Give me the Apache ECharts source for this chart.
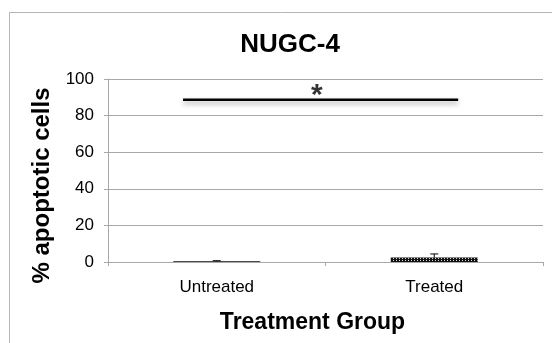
<!DOCTYPE html>
<html>
<head>
<meta charset="utf-8">
<script src="https://cdn.jsdelivr.net/npm/echarts@6/dist/echarts.min.js"></script>
<style>
  html, body { margin: 0; padding: 0; background: #fff; }
  #chart { width: 552px; height: 343px; }
</style>
</head>
<body>
<div id="chart"></div>
<script>
var categories = ['Untreated', 'Treated'];
var meanValues = [0.4, 2.4];
var errorValues = [0.3, 2.0];
var yTicks = [0, 20, 40, 60, 80, 100];
// significance bar: x positions in category units (0..2), height in %
var sigLineX = [0.345, 1.61];
var sigLineY = 88.7;
var sigStarX = 0.96;

var font = 'Liberation Sans, Arial, Helvetica, sans-serif';
var chart = echarts.init(document.getElementById('chart'));

var option = {
    animation: false,
    title: {
        text: 'NUGC-4',
        left: 285,
        top: 27,
        textAlign: 'center',
        textStyle: { fontFamily: font, fontSize: 26, fontWeight: 'bold', color: '#000' }
    },
    graphic: [{
        type: 'rect',
        shape: { x: 9.5, y: 12.5, width: 700, height: 500 },
        style: { fill: 'none', stroke: '#b5b5b5', lineWidth: 1 },
        silent: true
    }],
    grid: { left: 108, right: 9, top: 79, bottom: 81 },
    xAxis: [{
        type: 'category',
        data: categories,
        name: 'Treatment Group',
        nameLocation: 'middle',
        nameGap: 49,
        nameTextStyle: { fontFamily: font, fontSize: 23, fontWeight: 'bold', color: '#000', padding: [0, 26, 0, 0] },
        axisLine: { lineStyle: { color: '#a8a8a8', width: 1 } },
        axisTick: { show: true, length: 4, lineStyle: { color: '#a8a8a8' } },
        axisLabel: { fontFamily: font, fontSize: 17, color: '#000', margin: 17 },
        splitLine: { show: false }
    }, {
        type: 'value',
        min: 0,
        max: 2,
        show: false
    }],
    yAxis: {
        type: 'value',
        min: 0,
        max: 100,
        interval: 20,
        name: '% apoptotic cells',
        nameLocation: 'middle',
        nameGap: 50,
        nameTextStyle: { fontFamily: font, fontSize: 24, fontWeight: 'bold', color: '#000', padding: [0, 30, 0, 0] },
        axisLine: { show: true, lineStyle: { color: '#a8a8a8', width: 1 } },
        axisTick: { show: true, length: 4, lineStyle: { color: '#a8a8a8' } },
        axisLabel: {
            fontFamily: font, fontSize: 17, color: '#000', margin: 14,
            formatter: function (v) { return yTicks.indexOf(v) >= 0 ? String(v) : ''; }
        },
        splitLine: { show: true, lineStyle: { color: '#a8a8a8', width: 1 } }
    },
    series: [{
        type: 'bar',
        data: meanValues,
        barWidth: 87,
        itemStyle: {
            color: '#111',
            decal: {
                symbol: 'rect',
                symbolSize: 1,
                color: '#ddd',
                dashArrayX: [1, 2],
                dashArrayY: [1, 1],
                rotation: 0
            }
        },
        z: 2
    }, {
        type: 'custom',
        data: meanValues.map(function (v, i) { return [i, v, v + errorValues[i]]; }),
        renderItem: function (params, api) {
            var base = api.coord([api.value(0), api.value(1)]);
            var top = api.coord([api.value(0), api.value(2)]);
            return {
                type: 'group',
                children: [{
                    type: 'line',
                    shape: { x1: base[0], y1: base[1], x2: top[0], y2: top[1] },
                    style: { stroke: '#000', lineWidth: 1 }
                }, {
                    type: 'line',
                    shape: { x1: top[0] - 4, y1: top[1], x2: top[0] + 4, y2: top[1] },
                    style: { stroke: '#000', lineWidth: 1 }
                }]
            };
        },
        z: 3
    }, {
        type: 'line',
        xAxisIndex: 1,
        data: [[sigLineX[0], sigLineY], [sigLineX[1], sigLineY]],
        symbol: 'none',
        lineStyle: {
            color: '#000', width: 2.5,
            shadowColor: 'rgba(0,0,0,0.35)', shadowBlur: 5, shadowOffsetY: 3
        },
        z: 4
    }, {
        type: 'scatter',
        xAxisIndex: 1,
        data: [[sigStarX, sigLineY]],
        symbolSize: 0,
        label: {
            show: true,
            position: 'top',
            distance: -11,
            formatter: '*',
            fontFamily: font,
            fontSize: 30,
            fontWeight: 'bold',
            color: '#000'
        },
        z: 5
    }]
};

chart.setOption(option);
</script>
</body>
</html>
